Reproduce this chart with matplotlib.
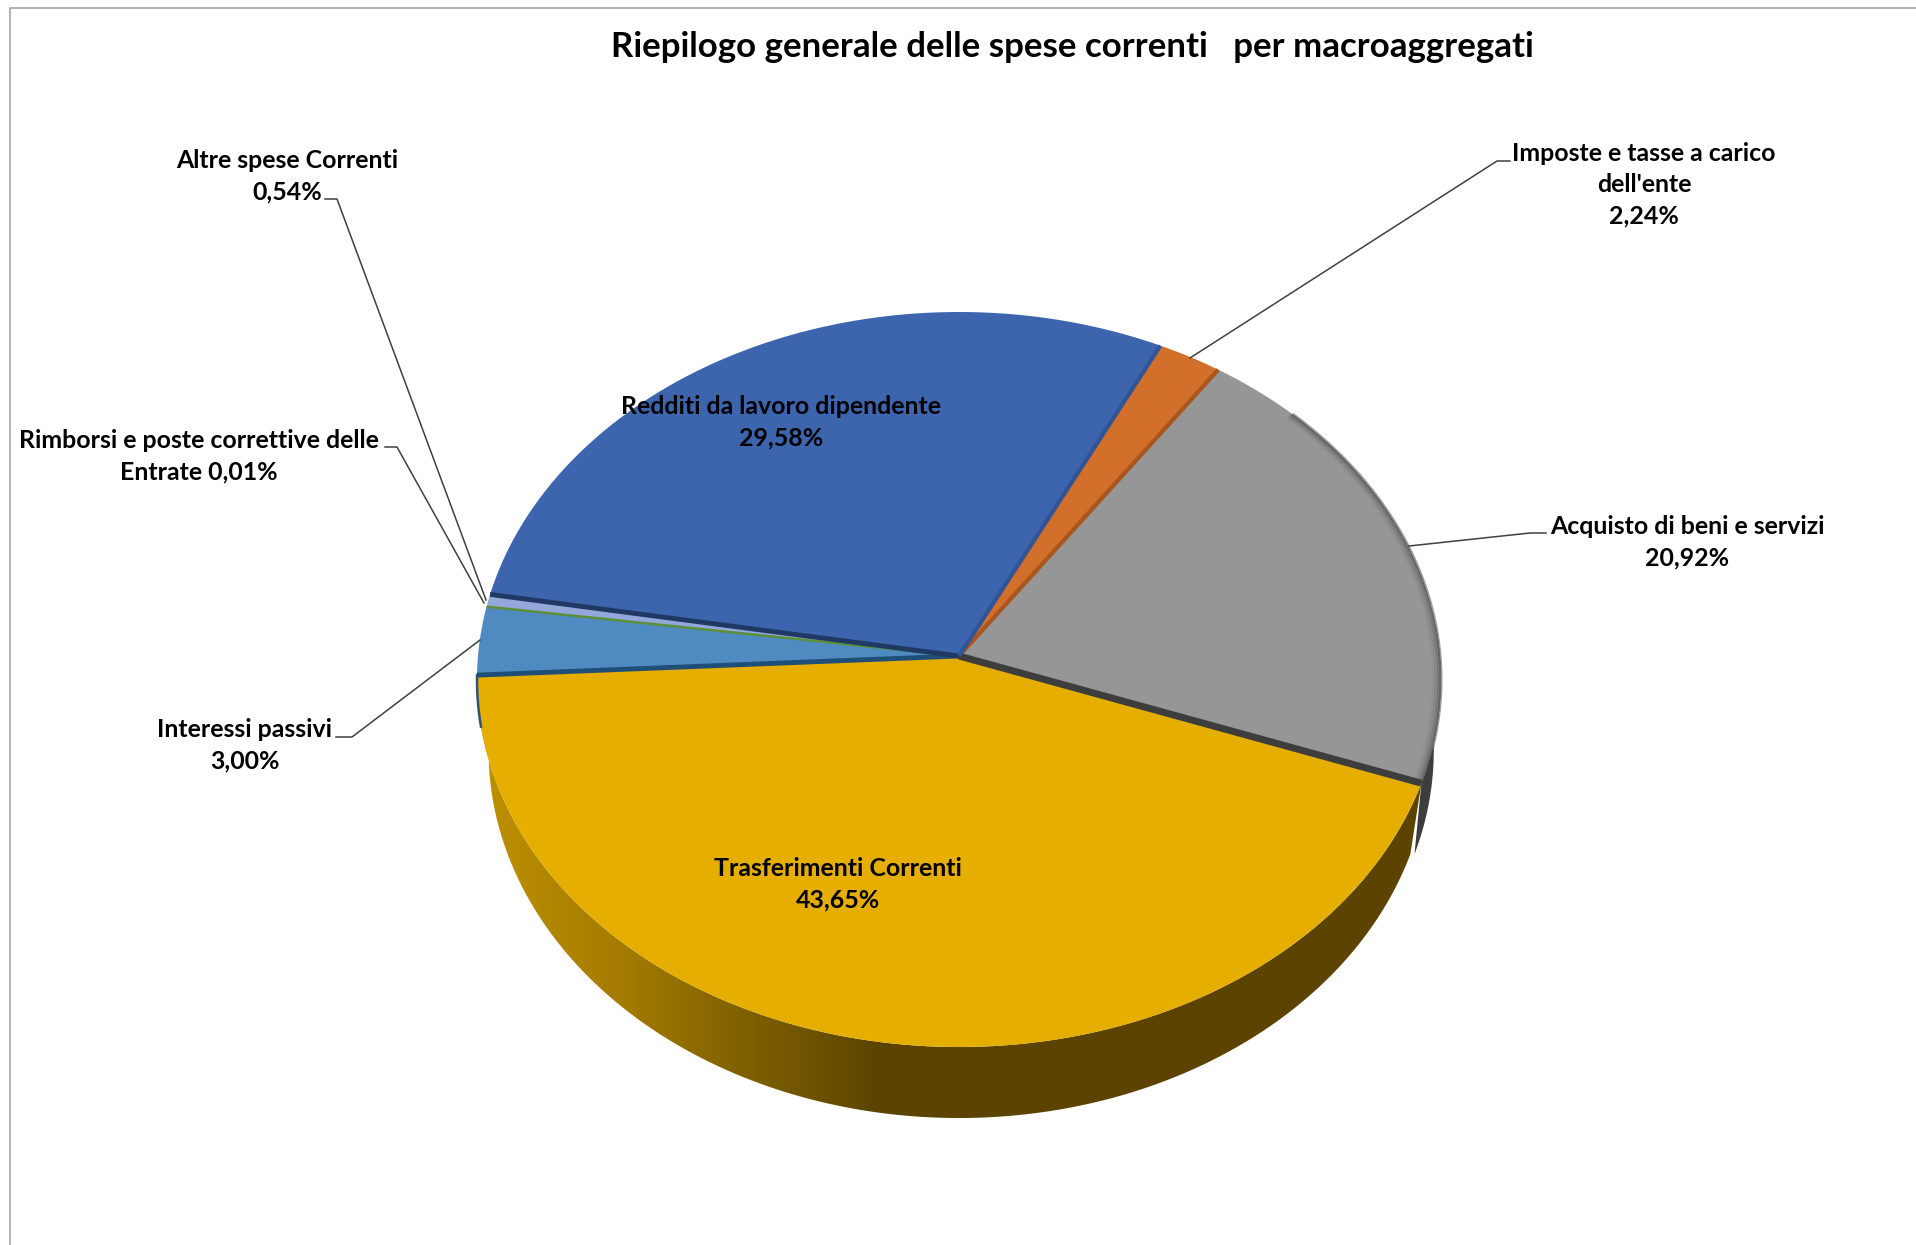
import numpy as np
import matplotlib
matplotlib.use('Agg')
import matplotlib.pyplot as plt
from matplotlib.colors import LinearSegmentedColormap
from matplotlib.patches import Polygon

title = 'Riepilogo generale delle spese correnti   per macroaggregati'

# slices, clockwise from the Imposte slice
categories = ['Imposte e tasse a carico\ndell\'ente', 'Acquisto di beni e servizi',
              'Trasferimenti Correnti', 'Interessi passivi',
              'Rimborsi e poste correttive delle\nEntrate', 'Altre spese Correnti',
              'Redditi da lavoro dipendente']
values = [2.24, 20.92, 43.65, 3.00, 0.01, 0.54, 29.58]

colors = ['#D26F2A', '#969696', '#E5AE00', '#4F8BC0', '#70AD47', '#94A7DB', '#3C65AE']
wall_colors = ['#A9561E', '#3D3D3D', '#5C4400', '#2A5478', '#70AD47', '#5F6E99', '#27447A']
edge_colors = ['#A9561E', '#3D3D3D', '#1F4E79', '#5B8F3A', '#94A7DB', '#1F3864', '#2F5597']
edge_widths = [3, 5, 3.5, 1.8, 0, 3.5, 3]

# label centre in pixels and separator between name and value
label_pos = [(1644, 185), (1687, 542), (838, 884), (245, 745), (199, 456), (287, 176), (781, 422)]
label_sep = ['\n', '\n', '\n', '\n', ' ', '\n', '\n']

# leader lines in pixels, label end first
leaders = {
    0: [(1510, 161), (1497, 161), (1190, 358)],
    1: [(1546, 533), (1530, 533), (1409, 546)],
    3: [(336, 737), (352, 737), (480, 640)],
    4: [(385, 447), (397, 447), (484, 603)],
    5: [(325, 199), (337, 199), (486, 600)],
}

START = 26.5
HUB = (959, 656)
RX, RY, PERSP = 481, 366, 0.064
DEPTH, LOW_X = 71, 0.976


def project(angle, r=1.0, low=False, low_x=LOW_X):
    # angle in degrees clockwise from the top of the pie
    a = np.radians(angle)
    x = r * np.sin(a)
    y = r * np.cos(a)
    d = 1 + PERSP * y
    px = RX * x / d * (low_x if low else 1.0)
    py = -RY * y / d + (DEPTH if low else 0)
    return HUB[0] + px, HUB[1] + py


bounds = START + np.cumsum([0] + values) * 3.6

fig = plt.figure(figsize=(19.16, 12.45), dpi=100)
ax = fig.add_axes([0, 0, 1, 1])
ax.set_xlim(0, 1916)
ax.set_ylim(1245, 0)
ax.axis('off')

plt.rcParams['font.family'] = ['Lato', 'DejaVu Sans']

# frame, only the top and left sides are in the crop
ax.plot([10, 10, 1916], [1245, 8, 8], color='#A6A6A6', lw=1.2)

# dark wall of the grey slice, a bit wider than the lower ring
t = np.linspace(85, bounds[2], 60)
xt, yt = project(t)
xb, yb = project(t, low=True, low_x=0.985)
ax.fill(np.r_[xt, xb[::-1]], np.r_[yt, yb[::-1]], color=wall_colors[1], lw=0, zorder=2)

# wall of the big slice, gradient clipped to the wall outline
t = np.linspace(bounds[2], bounds[3], 300)
xt, yt = project(t)
xb, yb = project(t, low=True)
wall = Polygon(np.c_[np.r_[xt, xb[::-1]], np.r_[yt, yb[::-1]]], closed=True,
               transform=ax.transData, fc='none', ec='none')
ax.add_patch(wall)
cmap = LinearSegmentedColormap.from_list('wall', [(0, '#BE9000'), (0.15, '#A37B00'),
                                                  (0.29, '#7C5E00'), (0.42, '#5C4400'),
                                                  (1, '#5C4400')])
img = ax.imshow(np.linspace(0, 1, 512)[None, :], extent=(480, 1430, 1150, 650), cmap=cmap,
                aspect='auto', interpolation='bilinear', zorder=2.5)
img.set_clip_path(wall)
ax.set_xlim(0, 1916)
ax.set_ylim(1245, 0)

# top faces
for i in range(len(values)):
    t = np.linspace(bounds[i], bounds[i + 1], 200)
    xs, ys = project(t)
    ax.fill(np.r_[HUB[0], xs], np.r_[HUB[1], ys], color=colors[i], lw=0, zorder=3)

# soft dark rim on the grey slice
for r, alpha in zip([1.0, 0.995, 0.99, 0.985], [0.5, 0.3, 0.15, 0.07]):
    t = np.linspace(bounds[1] + 12, bounds[2], 100)
    xs, ys = project(t, r=r)
    ax.plot(xs, ys, color='#404040', alpha=alpha, lw=2.2, zorder=4)

# dark bevel along the straight edges, drawn on the closing side of each slice
for i in range(len(values)):
    if edge_widths[i] == 0:
        continue
    x1, y1 = project(bounds[i + 1])
    ax.plot([HUB[0], x1], [HUB[1], y1], color=edge_colors[i], lw=edge_widths[i],
            solid_capstyle='butt', zorder=5)

# thin blue wall showing left of the big slice
t = np.linspace(bounds[3] - 8, bounds[3], 30)
xs, ys = project(t)
ax.plot(xs, ys, color=wall_colors[3], lw=1.8, zorder=4)

# leaders
for i, pts in leaders.items():
    ax.plot([p[0] for p in pts], [p[1] for p in pts], color='#404040', lw=1.1, zorder=6)

# labels
for name, v, pos, sep in zip(categories, values, label_pos, label_sep):
    txt = name + sep + f'{v:.2f}'.replace('.', ',') + '%'
    ax.text(pos[0], pos[1], txt, ha='center', va='center', fontsize=17.9, fontweight='bold',
            color='black', linespacing=1.44, zorder=7)

ax.text(1072, 47, title, ha='center', va='center', fontsize=25.1, fontweight='bold', color='black')

fig.savefig('out.png', dpi=100)
